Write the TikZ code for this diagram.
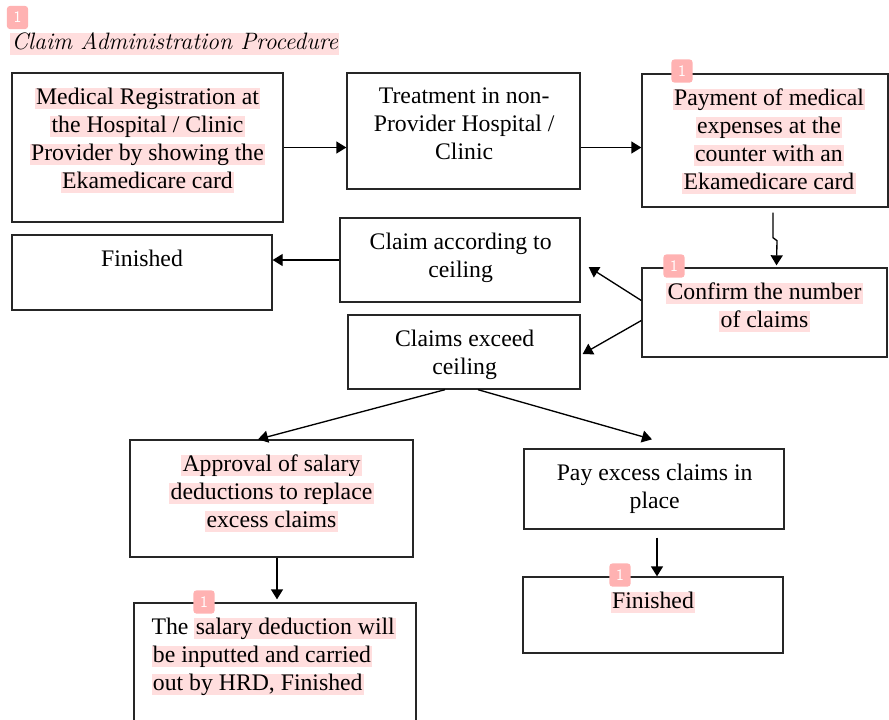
\documentclass[tikz,border=0pt]{standalone}
\usepackage{fontspec}
\usetikzlibrary{arrows.meta,calc}
\newfontfamily\boxfont{Liberation Serif}
\definecolor{hlpink}{RGB}{255,222,222}
\definecolor{markpink}{RGB}{255,178,178}
% one line of text, with or without the pink highlight
\newcommand\linestrut{\rule[-3.85pt]{0pt}{15.86pt}}
\newcommand\hlline[1]{{\setlength{\fboxsep}{0pt}\colorbox{hlpink}{\hspace{1pt}\linestrut#1\hspace{1pt}}}}
\newcommand\plainline[1]{\hspace{1pt}\linestrut#1\hspace{1pt}}

\begin{document}
\begin{tikzpicture}[x=0.75pt, y=-0.75pt,
    procbox/.style={draw=black!85, line width=1pt, inner sep=0pt},
    boxtext/.style={font=\boxfont\fontsize{17.8}{21}\selectfont, align=center, inner sep=0pt, anchor=north},
    arr/.style={-{Triangle[length=7.5pt,width=9pt]}, line width=1pt},
    marker/.style={fill=markpink, rounded corners=2.5pt, minimum width=16pt, minimum height=17.5pt,
                   inner sep=0pt, text=white, font=\sffamily\fontsize{12}{12}\selectfont}]
        \def \px {0.75pt};
        \def \textdrop {15};

        \useasboundingbox (0,0) rectangle (889,719);
        \clip (0,0) rectangle (889,719);

        % title
        \node[inner sep=0pt, anchor=west, font=\itshape\fontsize{17.8}{21}\selectfont] (title) at (10,44)
            {\hlline{Claim Administration Procedure}};

        % the boxes, placed at their centres
        \node[procbox, minimum width=271*\px, minimum height=149*\px] (reg) at (147.5,147.5) {};
        \node[procbox, minimum width=233*\px, minimum height=116*\px] (treat) at (463.5,131) {};
        \node[procbox, minimum width=246*\px, minimum height=133*\px] (pay) at (765,140.5) {};
        \node[procbox, minimum width=260*\px, minimum height=75*\px] (finA) at (142,272.5) {};
        \node[procbox, minimum width=240*\px, minimum height=84*\px] (ceil) at (460,260) {};
        \node[procbox, minimum width=232*\px, minimum height=74*\px] (exceed) at (464,352) {};
        \node[procbox, minimum width=245*\px, minimum height=89*\px] (confirm) at (764.5,312.5) {};
        \node[procbox, minimum width=283*\px, minimum height=117*\px] (approve) at (271.5,498.5) {};
        \node[procbox, minimum width=282*\px, minimum height=137*\px] (deduct) at (275,671.5) {};
        \node[procbox, minimum width=260*\px, minimum height=80*\px] (excess) at (654,489) {};
        \node[procbox, minimum width=260*\px, minimum height=76*\px] (finB) at (653,615) {};

        % the texts, hung from the top of each box
        \node[boxtext] (regtext) at ($(reg.north)+(0,\textdrop)$)
            {\hlline{Medical Registration at}\\\hlline{the Hospital / Clinic}\\\hlline{Provider by showing the}\\\hlline{Ekamedicare card}};
        \node[boxtext] (treattext) at ($(treat.north)+(0,\textdrop)$)
            {\plainline{Treatment in non-}\\\plainline{Provider Hospital /}\\\plainline{Clinic}};
        \node[boxtext] (paytext) at ($(pay.north)+(4,\textdrop)$)
            {\hlline{Payment of medical}\\\hlline{expenses at the}\\\hlline{counter with an}\\\hlline{Ekamedicare card}};
        \node[boxtext] (finAtext) at ($(finA.north)+(0,\textdrop)$) {\plainline{Finished}};
        \node[boxtext] (ceiltext) at ($(ceil.north)+(0,\textdrop)$)
            {\plainline{Claim according to}\\\plainline{ceiling}};
        \node[boxtext] (exceedtext) at ($(exceed.north)+(0,\textdrop)$)
            {\plainline{Claims exceed}\\\plainline{ceiling}};
        \node[boxtext] (confirmtext) at ($(confirm.north)+(0,\textdrop)$)
            {\hlline{Confirm the number}\\\hlline{of claims}};
        \node[boxtext] (approvetext) at ($(approve.north)+(0,\textdrop)$)
            {\hlline{Approval of salary}\\\hlline{deductions to replace}\\\hlline{excess claims}};
        \node[boxtext, align=left, anchor=north west] (deducttext) at ($(deduct.north west)+(18,\textdrop)$)
            {{\linestrut The} \hlline{salary deduction will}\\\hlline{be inputted and carried}\\\hlline{out by HRD, Finished}};
        \node[boxtext] (excesstext) at ($(excess.north)+(0,\textdrop)$)
            {\plainline{Pay excess claims in}\\\plainline{place}};
        \node[boxtext] (finBtext) at ($(finB.north)+(0,\textdrop)$) {\hlline{Finished}};

        % connectors
        \draw[arr] (reg.east) -- (reg.east -| treat.west);
        \draw[arr] (treat.east |- reg.east) -- (pay.west |- reg.east);
        \draw[arr] ($(pay.south)+(8,5)$) -- ++(0,25) -- ++(4,3) -- ($(confirm.north)+(12,-2)$);
        \draw[arr] ($(confirm.west)+(0,-12)$) -- ($(ceil.east)+(8,7)$);
        \draw[arr] ($(confirm.west)+(0,8)$) -- ($(exceed.east)+(2,2)$);
        \draw[arr] (ceil.west) -- (ceil.west -| finA.east);
        \draw[arr] ($(exceed.south)+(-19,0)$) -- ($(approve.north)+(-13.5,0)$);
        \draw[arr] ($(exceed.south)+(14,0)$) -- ($(excess.north)+(-2,-9)$);
        \draw[arr] ($(approve.south)+(5.5,0)$) -- ($(deduct.north)+(2,-3)$);
        \draw[arr] ($(excess.south)+(3,8)$) -- ($(finB.north)+(4,0)$);

        % the little comment markers
        \foreach \mx/\my [count=\i] in {17.5/17.5, 682/71, 674/266, 204/602, 620/575} {
            \node[marker] (mark\i) at (\mx,\my) {1};
        }
\end{tikzpicture}
\end{document}
